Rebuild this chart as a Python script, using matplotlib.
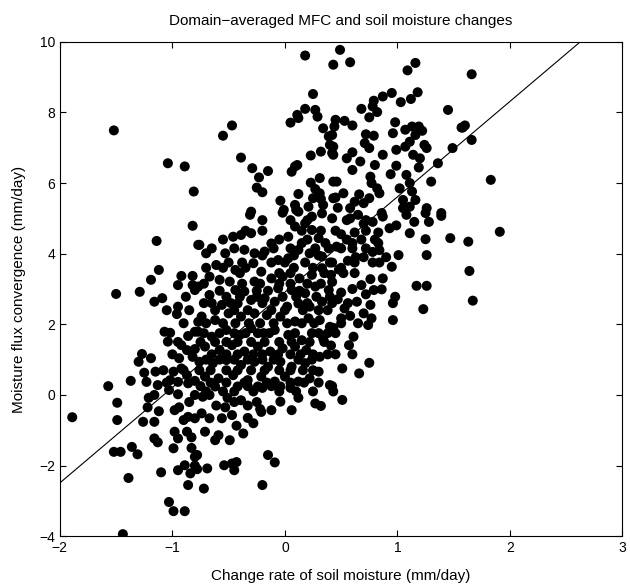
import numpy as np
import matplotlib.pyplot as plt

plt.rcParams['font.family'] = ['Liberation Sans', 'DejaVu Sans']

# change rate of soil moisture (mm/day) and moisture flux convergence (mm/day)
dsdt = [
    -1.52, -1.04, -0.89, -0.81,
    0.18, 0.43, 0.25, 0.18, 0.27, 0.29, 0.11, 0.12, 0.05, -0.47, -0.55, 0.34, 0.39, 0.40, 0.32, 0.23,
    0.42, -0.39, -0.29, -0.15, -0.23, -0.25, -0.20, 0.09, 0.11, 0.06, 0.31, 0.23, 0.27, 0.31, 0.25,
    0.32, 0.34, 0.21, 0.12, -0.04, -0.01, 0.09, 0.10, -0.30, 0.43, 0.43,
    0.49, 0.58, 1.16, 1.09, 0.87, 0.95, 0.79, 0.78, 0.82, 0.68, 0.75, 1.18, 1.12, 1.03, 1.45, 0.45,
    0.44, 0.53, 0.60, 0.98, 0.96, 1.07, 1.13, 1.19, 1.22, 1.58, 0.72, 0.79, 0.71, 0.75, 0.42, 0.43,
    0.43, 1.16, 1.11, 1.07, 0.99, 1.24, 1.26, 1.49, 0.87, 0.60, 0.55, 0.67, 0.60, 1.14, 1.20, 1.19,
    1.36, 0.80, 0.99, 0.94, 0.46, 0.76, 0.77, 0.82, 0.84, 1.08, 1.11, 1.02, 1.13, 1.30, 0.45, 0.52,
    0.66, 0.75, 0.62, 0.70, 0.47, 0.58, 1.05, 1.16, 1.05, 1.11, 1.26, 1.39, 0.86,
    1.66, 1.60, 1.57, 1.66, 1.83,
    -0.82, -1.14, -0.77, -1.12, -0.92, -1.19, -0.95, -0.82, -0.82, -0.80, -1.50, -1.29, -1.16, -1.09,
    -0.95, -0.96, -0.77, -1.07, -1.02, -1.04, -0.86, -0.80, -0.92, -0.87, -0.80, -0.94, -0.82, -1.27,
    -1.30, -1.19, -1.25, -1.15, -1.23, -0.99, -0.92, -0.87, -1.02, -0.95, -0.86, -1.13, -1.37, -1.57,
    -0.80,
    -1.89, -1.49, -1.49, -1.52, -1.46, -1.36, -1.31, -1.39, -1.44, -1.21, -1.22, -1.12, -1.16, -1.26,
    -1.16, -1.16, -1.13, -1.10, -1.03, -0.95, -0.98, -0.94, -0.90, -0.86, -0.80, -0.98, -0.95, -0.87,
    -0.83, -0.99, -0.83, -0.80, -0.89, -0.95, -0.84, -0.80, -0.86, -1.03, -0.99, -0.89, -0.80,
    -0.72, -0.69, -0.78, -0.54, -0.47, -0.43, -0.45, -0.20, -0.15, -0.09, -0.78, -0.62, -0.49, -0.59,
    -0.37, -0.43, -0.71, -0.28, -0.33, -0.47, -0.56, -0.53, -0.67, -0.73, -0.67, -0.74, -0.61, -0.51,
    -0.39, -0.33, -0.21, -0.22, -0.12, -0.04, 0.06, 0.12, 0.05, 0.27, 0.32, -0.33, -0.20, -0.12, -0.75,
    0.51, 0.43,
    1.39, 1.47, 1.63, 1.91, 1.64, 1.67, 1.25, 1.26, 1.17, 1.26, 1.23, 0.98, 0.96, 0.96, 0.87, 0.86,
    0.76, 0.77, 0.74, 0.70, 0.61, 0.57, 0.75, 0.66, 0.51, 0.42, 0.41, 0.58, 0.50, 0.43, 0.53, 0.64,
    0.47, 0.79, 0.72, 0.68, 0.76, 0.60, 0.50, 0.42, 0.95, 1.01, 0.90, 0.84, 0.83, 0.80, 0.83, 0.93,
    0.99, 1.11, 1.08, 1.15, 1.25, 1.28, 0.87, 0.78, 0.70, 0.58, 0.65, 0.42, 0.62, 0.50, 0.60, 0.46,
    0.56, 0.63, 0.70, 0.50, 0.72, 0.78, 0.84, 0.41, 0.48,
    -0.31, -0.02, 0.12, 0.24, 0.33, -0.46, -0.39, -0.30, -0.12, 0.03, 0.09, 0.18, 0.24, 0.30, 0.36,
    0.15, -0.76, -0.70, -0.53, -0.36, -0.27, -0.18, -0.06, 0.03, 0.12, 0.22, 0.33, 0.39, -0.61, -0.44,
    -0.28, -0.21, -0.12, -0.02, 0.13, 0.24, 0.33, -0.67, -0.58, -0.49, -0.27, -0.44, -0.36, -0.06,
    0.06, 0.18, 0.27, 0.39, -0.77, -0.67, -0.56, -0.42, -0.30, -0.18, -0.09, 0.02, 0.12, 0.22, 0.33,
    -0.74, -0.62, -0.50, -0.39, -0.27, -0.16, -0.04, 0.09, 0.21, 0.31, 0.40, -0.77, -0.65, -0.52,
    -0.40, -0.30, -0.19, -0.09, 0.03, 0.15, 0.24, 0.34, -0.71, -0.58, -0.47, -0.36, -0.24, -0.13,
    -0.02, 0.09, 0.19, 0.31, -0.76, -0.64, -0.52, -0.39, -0.27, -0.15, -0.04, 0.06, 0.18, 0.30,
    -0.71, -0.59, -0.46, -0.33, -0.21, -0.09, 0.00, 0.12, 0.22, 0.40, -0.62, -0.42, -0.24, -0.04,
]
mfc = [
    7.49, 6.56, 6.47, 5.76,
    9.61, 9.35, 8.52, 8.10, 8.07, 7.88, 7.93, 7.84, 7.71, 7.63, 7.34, 7.55, 7.32, 7.08, 6.89, 6.78,
    6.85, 6.72, 6.42, 6.34, 6.16, 5.87, 5.74, 6.47, 6.51, 6.32, 6.14, 6.01, 5.83, 5.71, 5.57,
    5.55, 5.38, 5.33, 5.69, 5.50, 5.24, 5.38, 5.24, 5.19, 6.04, 5.57,
    9.77, 9.42, 9.40, 9.19, 8.45, 8.55, 8.33, 8.17, 8.01, 8.10, 7.86, 8.57, 8.38, 8.29, 8.07, 7.79,
    7.60, 7.76, 7.63, 7.72, 7.41, 7.51, 7.60, 7.60, 7.48, 7.57, 7.38, 7.34, 7.13, 6.99, 7.36, 7.03,
    6.80, 7.36, 7.17, 7.03, 6.94, 7.08, 6.99, 6.99, 6.80, 6.87, 6.70, 6.61, 6.37, 6.80, 6.70, 6.44,
    6.56, 6.51, 6.49, 6.25, 6.04, 6.18, 6.00, 5.85, 5.71, 6.23, 6.00, 5.85, 5.76, 6.04, 5.59, 5.71,
    5.68, 5.57, 5.47, 5.43, 5.30, 5.29, 5.52, 5.52, 5.29, 5.33, 5.29, 5.15, 5.15,
    9.08, 7.63, 7.57, 7.22, 6.09,
    4.79, 4.36, 4.25, 3.54, 3.37, 3.26, 3.11, 3.37, 3.11, 2.97, 2.86, 2.92, 2.64, 2.74,
    2.50, 2.29, 2.07, 1.79, 1.76, 1.51, 1.67, 1.79, 1.41, 1.27, 1.30, 1.04, 1.08, 1.16,
    0.94, 1.04, 0.63, 0.66, 0.37, 0.66, 0.75, 0.56, 0.42, 0.37, 0.33, 0.28, 0.40, 0.25,
    0.40,
    -0.63, -0.22, -0.71, -1.61, -1.61, -1.47, -1.68, -2.35, -3.94, -0.08, -0.35, -0.46, 0.00, -0.76,
    -0.76, -1.23, -1.34, -2.19, 0.14, 0.02, -0.43, -0.35, -0.71, -0.62, -0.66, -1.04, -1.23, -1.04,
    -1.20, -1.51, -1.50, -1.75, -1.99, -2.13, -2.22, -2.00, -2.55, -3.03, -3.29, -3.29, 0.00,
    -2.65, -2.08, -2.10, -1.99, -1.94, -1.90, -2.13, -2.55, -1.70, -1.91, -1.70, -1.28, -1.28, -1.14,
    -1.09, -0.87, -1.04, -0.80, -0.65, -0.57, -0.66, -0.35, -0.66, -0.05, 0.00, -0.52, -0.30, -0.08,
    -0.15, -0.30, -0.48, -0.40, -0.43, -0.19, -0.43, -0.08, 0.20, -0.24, -0.31, 0.25, 0.20, 0.25, 0.25,
    -0.14, 0.10,
    5.07, 4.44, 4.34, 4.62, 3.51, 2.67, 4.41, 3.96, 3.09, 3.09, 2.43, 2.78, 2.60, 2.12, 3.30, 2.99,
    2.55, 2.17, 1.98, 2.31, 1.65, 1.41, 0.91, 0.61, 0.75, 0.25, 1.40, 2.24, 2.17, 1.90, 2.45, 2.64,
    2.71, 2.97, 2.85, 3.11, 3.28, 3.00, 2.90, 3.20, 3.63, 3.96, 3.90, 4.10, 4.30, 4.40, 4.60, 4.72,
    4.80, 4.58, 5.10, 4.90, 5.15, 4.90, 5.05, 4.90, 4.85, 5.00, 5.10, 5.00, 4.60, 4.55, 4.30, 4.20,
    3.80, 3.90, 3.90, 3.60, 4.15, 4.05, 3.75, 3.40, 3.55,
    5.10, 5.16, 5.19, 5.05, 5.14, 4.48, 4.53, 4.58, 4.29, 4.48, 4.77, 4.86, 4.67, 4.44, 4.30,
    4.30, 4.25, 4.01, 4.01, 4.11, 4.01, 4.06, 3.82, 3.87, 4.11, 4.01, 3.92, 4.15, 3.68, 3.54,
    3.73, 3.49, 3.30, 3.35, 3.30, 3.40, 3.59, 3.35, 3.26, 3.21, 3.21, 2.97, 2.93, 3.02,
    2.97, 2.88, 3.07, 2.97, 3.07, 2.83, 2.55, 2.59, 2.69, 2.74, 2.64, 2.50, 2.59, 2.50, 2.64,
    2.22, 2.12, 2.31, 2.22, 2.31, 2.26, 2.22, 2.08, 2.17, 2.12, 1.93, 1.79, 1.65, 1.84,
    1.70, 1.89, 1.75, 1.84, 1.70, 1.55, 1.75, 1.60, 1.37, 1.27, 1.41, 1.23, 1.37, 1.23,
    1.32, 1.37, 1.27, 1.08, 0.94, 0.90, 0.99, 0.85, 0.94, 0.80, 0.94, 0.80, 0.90, 0.66,
    0.52, 0.47, 0.56, 0.42, 0.52, 0.38, 0.52, 0.38, 0.47, 0.28, 0.24, 0.24, 0.24, 0.24,
]

# extra points read row by row from the dense, overlapping core of the cloud
core_mfc_rows = [4.95, 4.65, 4.40, 4.15, 3.95, 3.75, 3.60, 3.45, 3.15, 2.95, 2.78, 2.60, 2.40,
                 2.03, 1.75, 1.50, 1.15, 1.00, 0.70, 0.35, 0.10, -0.20]
core_dsdt_rows = [
    [-0.20, 0.05, 0.20, 0.55, 0.72],
    [-0.35, -0.20, 0.15, 0.32, 0.45, 0.72],
    [-0.55, -0.05, 0.20, 0.55, 0.68],
    [-0.65, -0.45, -0.10, 0.05, 0.27, 0.50, 0.60],
    [-0.20, 0.08, 0.30],
    [-0.50, -0.38, -0.12, 0.00, 0.18, 0.40, 0.42, 0.62, 0.78],
    [-0.70, -0.55, -0.35, 0.08, 0.25],
    [-0.40, -0.05, 0.05, 0.35, 0.52, 0.62],
    [-0.72, -0.38, -0.22, -0.05, 0.05, 0.20, 0.32],
    [-0.58, -0.25, -0.15, 0.13],
    [-0.52, -0.40, -0.25, -0.02, 0.10, 0.28, 0.40, -0.88],
    [-0.72, -0.65, -0.48, -0.20, 0.20, 0.42, 0.56],
    [-0.62, -0.45, -0.33, -0.12, 0.00, 0.16, 0.30, 0.38, -0.85, -1.05],
    [-0.70, -0.55, -0.44, -0.32, -0.22, -0.10, 0.02, 0.15, 0.26, -0.90, 0.50, 0.65],
    [-0.72, -0.58, -0.45, -0.35, -0.24, -0.14, 0.09, 0.30, 0.38, 0.45],
    [-0.75, -0.62, -0.52, -0.42, -0.30, -0.18, -0.05, 0.06, 0.22, 0.35, -0.95],
    [-0.65, -0.52, -0.42, -0.28, -0.20, -0.06, 0.05, 0.14, 0.25, 0.38, -1.00, 0.45, 0.60],
    [-0.70, -0.58, -0.45, -0.33, -0.20, -0.10, 0.12, 0.24],
    [-0.76, -0.66, -0.52, -0.42, -0.30, -0.18, -0.05, 0.05, 0.16, 0.25, -0.90, -1.08],
    [-0.66, -0.52, -0.36, -0.16, 0.05, 0.17, 0.30, -1.05],
    [-0.70, -0.55, -0.45, -0.28, -0.05, 0.10, 0.25],
    [-0.85, -0.45, -0.25],
]

# fitted line shown on the chart
fit_slope = 2.70
fit_intercept = 2.91

core_x = [x for row in core_dsdt_rows for x in row]
core_y = [y for y, row in zip(core_mfc_rows, core_dsdt_rows) for _ in row]

fig = plt.figure(figsize=(6.3, 5.88), dpi=100)
ax = fig.add_axes([0.095, 0.088, 0.893, 0.841])

ax.scatter(dsdt + core_x, mfc + core_y, s=52, color='k', edgecolors='none', zorder=3)
xl = np.array([-2, 3])
ax.plot(xl, fit_intercept + fit_slope * xl, color='k', linewidth=0.8)

ax.set_xlim(-2, 3)
ax.set_ylim(-4, 10)
ax.set_xticks(range(-2, 4))
ax.set_yticks(range(-4, 11, 2))
ax.tick_params(direction='in', top=True, right=True, length=4, labelsize=10)
for s in ax.spines.values():
    s.set_linewidth(0.8)

ax.set_title('Domain\u2212averaged MFC and soil moisture changes', fontsize=11, pad=12)
ax.set_xlabel('Change rate of soil moisture (mm/day)', fontsize=11, labelpad=10)
ax.set_ylabel('Moisture flux convergence (mm/day)', fontsize=11, labelpad=9)

fig.savefig('out.png')
